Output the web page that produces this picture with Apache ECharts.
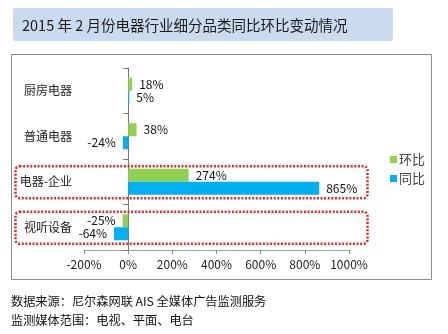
<!DOCTYPE html>
<html><head><meta charset="utf-8">
<script src="https://cdn.jsdelivr.net/npm/echarts@6/dist/echarts.min.js"></script>
<style>html,body{margin:0;padding:0;background:#fff}#c{width:448px;height:334px}</style>
</head><body><div id="c"></div>
<script>
const categories = ['厨房电器', '普通电器', '电器-企业', '视听设备'];
const huanbi = [18, 38, 274, -25];
const tongbi = [5, -24, 865, -64];
const seriesNames = ['环比', '同比'];
const xTicks = [-200, 0, 200, 400, 600, 800, 1000];
const titleText = '2015 年 2 月份电器行业细分品类同比环比变动情况';
const footLines = ['数据来源：尼尔森网联 AIS 全媒体广告监测服务', '监测媒体范围：电视、平面、电台'];
const highlighted = ['电器-企业', '视听设备'];

const FONT = '"Noto Sans CJK SC", "Noto Sans", sans-serif';
const chart = echarts.init(document.getElementById('c'));

function lbl() {
  return {
    show: true,
    fontSize: 12, color: '#111', fontFamily: FONT,
    distance: 7,
    formatter: p => p.value + '%'
  };
}
function mkData(arr) {
  return arr.map(v => ({ value: v, label: { position: v >= 0 ? 'right' : 'left' } }));
}

const option = {
  animation: false,
  textStyle: { fontFamily: FONT },
  grid: { left: 84, right: 99, top: 68, bottom: 84, containLabel: false, outerBoundsMode: 'none' },
  legend: {
    orient: 'vertical', left: 385, top: 148,
    itemWidth: 7, itemHeight: 7, itemGap: 6,
    icon: 'rect',
    textStyle: { fontSize: 13, color: '#444', fontFamily: FONT, padding: [0, 0, 0, -3] },
    data: seriesNames
  },
  xAxis: {
    type: 'value', min: xTicks[0], max: xTicks[xTicks.length - 1], interval: 200,
    axisLine: { show: true, onZero: false, lineStyle: { color: '#a0a0a0' } },
    axisTick: { show: true, length: 4, lineStyle: { color: '#888' } },
    splitLine: { show: false },
    axisLabel: { fontSize: 12, color: '#222', margin: 8, formatter: v => v + '%' }
  },
  yAxis: {
    type: 'category', data: categories, inverse: true,
    axisLine: { show: true, onZero: true, lineStyle: { color: '#777' } },
    axisTick: { show: true, length: 5, lineStyle: { color: '#777' } },
    axisLabel: { fontSize: 12, color: '#222', margin: 12 }
  },
  series: [
    { name: seriesNames[0], type: 'bar', data: mkData(huanbi), barWidth: 13, barGap: '0%',
      itemStyle: { color: '#92d050' }, label: lbl() },
    { name: seriesNames[1], type: 'bar', data: mkData(tongbi), barWidth: 13, barGap: '0%',
      itemStyle: { color: '#00b0f0' }, label: lbl() }
  ]
};
chart.setOption(option);

// decorations
const g = [
  { type: 'rect', shape: { x: 13, y: 8, width: 380, height: 33, r: 2 }, style: { fill: '#cadbef' }, z: 0 },
  { type: 'text', x: 22, y: 25, style: { text: titleText, fontSize: 14.5, fill: '#1a1a1a', fontFamily: FONT, verticalAlign: 'middle' } },
  { type: 'rect', shape: { x: 11.5, y: 54.5, width: 420, height: 225 }, style: { fill: 'none', stroke: '#8c8c8c', lineWidth: 1 }, z: -1 },
  { type: 'text', x: 11, y: 301, style: { text: footLines[0], fontSize: 12.2, fill: '#111', fontFamily: FONT, verticalAlign: 'middle' } },
  { type: 'text', x: 11, y: 320, style: { text: footLines[1], fontSize: 12.2, fill: '#111', fontFamily: FONT, verticalAlign: 'middle' } }
];
highlighted.forEach(c => {
  const cy = chart.convertToPixel({ yAxisIndex: 0 }, c);
  g.push({ type: 'rect', shape: { x: 15.5, y: cy - 15.5, width: 352, height: 32, r: 4 },
    style: { fill: 'none', stroke: '#e0262a', lineWidth: 2.5, lineDash: [2, 1.6] }, z: 10 });
});
chart.setOption({ graphic: g });
</script>
</body></html>
